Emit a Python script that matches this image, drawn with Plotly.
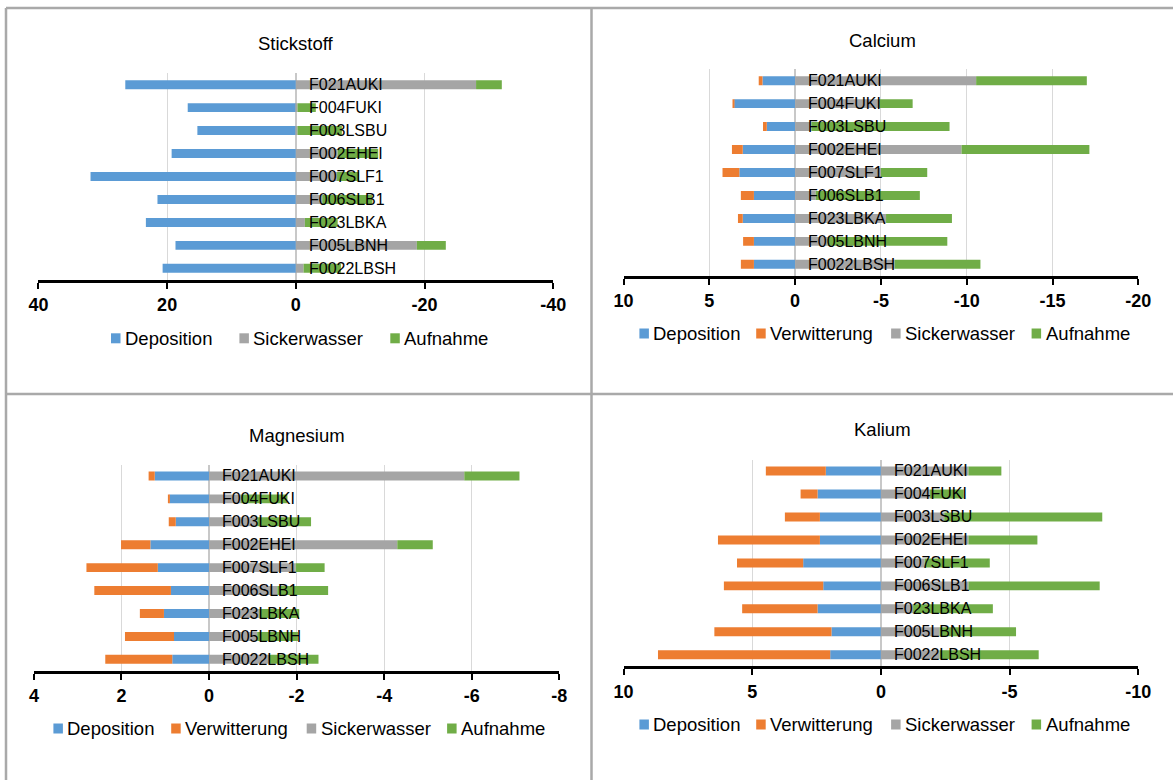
import plotly.graph_objects as go

# Sites, top to bottom
sites = ["F021AUKI", "F004FUKI", "F003LSBU", "F002EHEI", "F007SLF1",
         "F006SLB1", "F023LBKA", "F005LBNH", "F0022LBSH"]

# Stickstoff
n_deposition = [26.5, 16.8, 15.3, 19.3, 31.9, 21.5, 23.3, 18.7, 20.7]
n_sickerwasser = [-28.0, -0.25, -0.25, -6.5, -6.4, -4.1, -1.4, -18.8, -1.2]
n_aufnahme = [-4.0, -2.85, -6.9, -6.3, -3.4, -7.8, -5.1, -4.5, -5.8]

# Calcium
ca_deposition = [1.9, 3.55, 1.65, 3.05, 3.25, 2.4, 3.05, 2.4, 2.4]
ca_verwitterung = [0.22, 0.06, 0.22, 0.63, 0.98, 0.76, 0.28, 0.63, 0.76]
ca_sickerwasser = [-10.55, -4.9, -0.95, -9.7, -5.0, -1.2, -5.3, -1.9, -5.8]
ca_aufnahme = [-6.45, -1.95, -8.05, -7.45, -2.7, -6.07, -3.84, -6.97, -5.0]

# Magnesium
mg_deposition = [1.24, 0.90, 0.76, 1.34, 1.17, 0.87, 1.03, 0.80, 0.84]
mg_verwitterung = [0.14, 0.03, 0.16, 0.67, 1.63, 1.75, 0.55, 1.12, 1.53]
mg_sickerwasser = [-5.83, -0.73, -1.1, -4.30, -1.98, -1.56, -1.15, -1.1, -1.37]
mg_aufnahme = [-1.26, -1.06, -1.23, -0.81, -0.66, -1.16, -0.91, -0.93, -1.13]

# Kalium
k_deposition = [2.14, 2.46, 2.37, 2.37, 3.02, 2.24, 2.46, 1.92, 1.97]
k_verwitterung = [2.33, 0.66, 1.36, 3.96, 2.57, 3.86, 2.93, 4.55, 6.69]
k_sickerwasser = [-3.4, -1.9, -2.46, -3.4, -1.7, -3.4, -1.25, -2.28, -2.28]
k_aufnahme = [-1.28, -1.32, -6.14, -2.68, -2.53, -5.1, -3.1, -2.97, -3.85]

# Tick values per panel
n_ticks = [40, 20, 0, -20, -40]
ca_ticks = [10, 5, 0, -5, -10, -15, -20]
mg_ticks = [4, 2, 0, -2, -4, -6, -8]
k_ticks = [10, 5, 0, -5, -10]

COLORS = {
    "Deposition": "#5B9BD5",
    "Verwitterung": "#ED7D31",
    "Sickerwasser": "#A5A5A5",
    "Aufnahme": "#70AD47",
}

W, H = 1173, 780
FONT = "Liberation Sans, Arial, sans-serif"


def px_x(v):
    return v / W


def px_y(v):
    return 1 - v / H


# layout of each chart in page pixels: plot box, title centre,
# legend row (swatch left edges and vertical centre)
panels = [
    dict(title="Stickstoff", series={"Deposition": n_deposition,
                                     "Sickerwasser": n_sickerwasser,
                                     "Aufnahme": n_aufnahme},
         ticks=n_ticks, xpx=(38.4, 553.3), ypx=(73.2, 279.8),
         title_px=(296, 43), key_left=[111.0, 239.4, 390.3], key_y=338.3),
    dict(title="Calcium", series={"Deposition": ca_deposition,
                                  "Verwitterung": ca_verwitterung,
                                  "Sickerwasser": ca_sickerwasser,
                                  "Aufnahme": ca_aufnahme},
         ticks=ca_ticks, xpx=(623.5, 1138.3), ypx=(69.2, 275.8),
         title_px=(882.6, 40),
         key_left=[639.4, 756.2, 891.1, 1031.6], key_y=333.5),
    dict(title="Magnesium", series={"Deposition": mg_deposition,
                                    "Verwitterung": mg_verwitterung,
                                    "Sickerwasser": mg_sickerwasser,
                                    "Aufnahme": mg_aufnahme},
         ticks=mg_ticks, xpx=(33.9, 559.3), ypx=(464.5, 670.8),
         title_px=(297, 435.5),
         key_left=[53.4, 171.2, 306.7, 447.1], key_y=728.5),
    dict(title="Kalium", series={"Deposition": k_deposition,
                                 "Verwitterung": k_verwitterung,
                                 "Sickerwasser": k_sickerwasser,
                                 "Aufnahme": k_aufnahme},
         ticks=k_ticks, xpx=(623.5, 1138.3), ypx=(459.5, 666.3),
         title_px=(882.6, 429),
         key_left=[639.4, 756.2, 891.1, 1031.6], key_y=724.5),
]

fig = go.Figure()
layout = dict(
    width=W, height=H,
    margin=dict(l=0, r=0, t=0, b=0, autoexpand=False),
    paper_bgcolor="white", plot_bgcolor="white",
    barmode="relative", bargap=0.61,
    font=dict(family=FONT, color="#000000"),
    showlegend=False,
)
annotations = []
shapes = []

SW = 9.5  # legend swatch width
SH = 10.0  # legend swatch height

for i, p in enumerate(panels, start=1):
    sfx = "" if i == 1 else str(i)
    xref, yref = "x" + sfx, "y" + sfx
    for name, vals in p["series"].items():
        fig.add_trace(go.Bar(
            x=vals, y=sites, orientation="h", name=name,
            marker=dict(color=COLORS[name], line=dict(width=0)),
            xaxis=xref, yaxis=yref, showlegend=False,
        ))
    ticks = p["ticks"]
    layout["xaxis" + sfx] = dict(
        domain=[px_x(p["xpx"][0]), px_x(p["xpx"][1])],
        anchor=yref, range=[max(ticks), min(ticks)],
        tickvals=ticks, ticktext=[str(t) for t in ticks],
        showgrid=True, gridcolor="#d9d9d9", gridwidth=1,
        zeroline=True, zerolinecolor="#c8c8c8", zerolinewidth=1.5,
        showline=True, linecolor="#000000", linewidth=2.5,
        ticks="outside", ticklen=6, tickwidth=1.5, tickcolor="#000000",
        ticklabelstandoff=1,
        tickfont=dict(family=FONT, size=18, color="#000000", weight="bold"),
        fixedrange=True,
    )
    layout["yaxis" + sfx] = dict(
        domain=[px_y(p["ypx"][1]), px_y(p["ypx"][0])],
        anchor=xref, type="category", categoryorder="array",
        categoryarray=sites, autorange="reversed",
        showticklabels=False, showgrid=False, showline=False,
        zeroline=False, ticks="", fixedrange=True,
    )
    # panel title
    annotations.append(dict(
        text=p["title"], xref="paper", yref="paper",
        x=px_x(p["title_px"][0]), y=px_y(p["title_px"][1]),
        xanchor="center", yanchor="middle", showarrow=False,
        font=dict(family=FONT, size=18.5, color="#000000"),
    ))
    # site names placed next to the zero line
    for s in sites:
        annotations.append(dict(
            text=s, x=0, y=s, xref=xref, yref=yref,
            xanchor="left", yanchor="middle", xshift=11,
            showarrow=False,
            font=dict(family=FONT, size=16, color="#000000"),
        ))
    # legend row: colour swatch followed by the series name
    ky = p["key_y"]
    for name, left in zip(p["series"].keys(), p["key_left"]):
        shapes.append(dict(
            type="rect", xref="paper", yref="paper",
            x0=px_x(left), x1=px_x(left + SW),
            y0=px_y(ky + SH / 2), y1=px_y(ky - SH / 2),
            fillcolor=COLORS[name], line=dict(width=0),
        ))
        annotations.append(dict(
            text=name, xref="paper", yref="paper",
            x=px_x(left + SW + 2.5), y=px_y(ky),
            xanchor="left", yanchor="middle", showarrow=False,
            font=dict(family=FONT, size=18.5, color="#000000"),
        ))

# frame lines separating the four charts
frame = "#a9a9a9"
shapes += [
    dict(type="line", xref="paper", yref="paper",
         x0=px_x(6), x1=1, y0=px_y(8), y1=px_y(8),
         line=dict(color=frame, width=2.5)),
    dict(type="line", xref="paper", yref="paper",
         x0=px_x(6), x1=px_x(6), y0=px_y(8), y1=0,
         line=dict(color=frame, width=2.5)),
    dict(type="line", xref="paper", yref="paper",
         x0=px_x(591.5), x1=px_x(591.5), y0=px_y(8), y1=0,
         line=dict(color=frame, width=2.5)),
    dict(type="line", xref="paper", yref="paper",
         x0=px_x(6), x1=1, y0=px_y(394), y1=px_y(394),
         line=dict(color=frame, width=2.5)),
]

layout["annotations"] = annotations
layout["shapes"] = shapes

fig.update_layout(**layout)
fig.write_html("out.html", config={"displayModeBar": False})
